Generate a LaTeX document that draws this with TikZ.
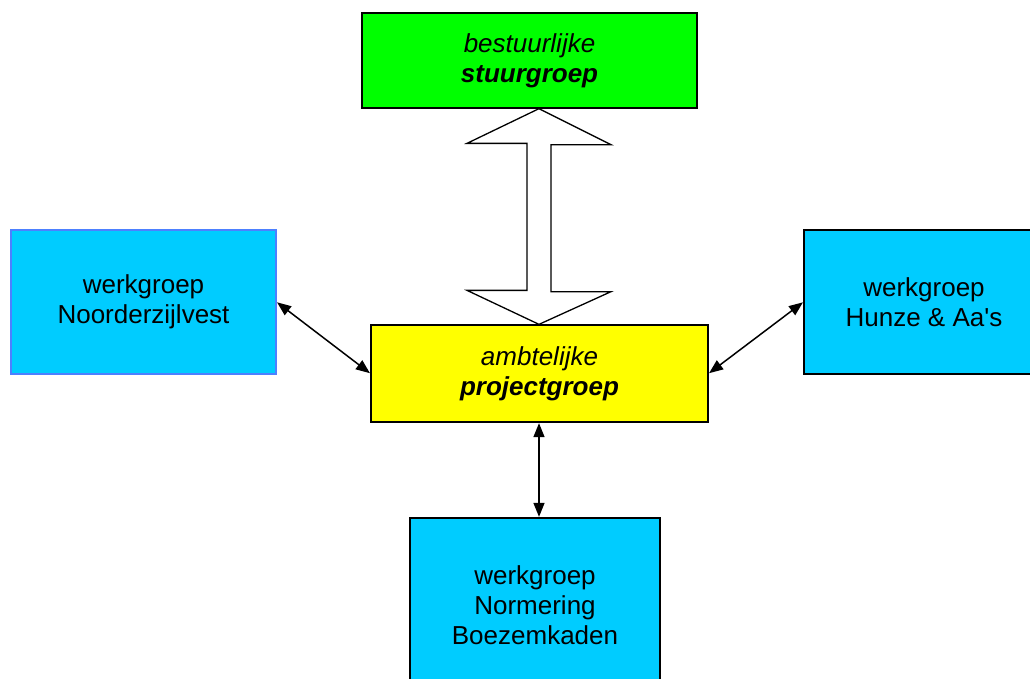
\documentclass[tikz,border=0pt]{standalone}
\usepackage{fontspec}
\setmainfont{Liberation Sans}[Ligatures=TeXOff]
\usetikzlibrary{arrows.meta}
\definecolor{boxgreen}{HTML}{00FF00}
\definecolor{boxyellow}{HTML}{FFFF00}
\definecolor{boxcyan}{HTML}{00CCFF}
\definecolor{lightedge}{HTML}{4D80FF}
\begin{document}
\begin{tikzpicture}[x=1pt,y=-1pt,
  box/.style={draw=black,line width=1.3pt,rectangle,inner sep=0pt,align=center,
    font=\fontsize{26}{30}\selectfont},
  link/.style={line width=1.5pt,{Triangle[length=14pt,width=11pt]}-{Triangle[length=14pt,width=11pt]},shorten <=0.5pt,shorten >=0.5pt}]
\useasboundingbox (0,0) rectangle (1030,678);
\clip (0,0) rectangle (1030,678);
\node[box,fill=boxgreen,minimum width=335pt,minimum height=95pt] (g) at (529.5,60.5)
  {\itshape bestuurlijke\\\bfseries\itshape stuurgroep};
\node[box,fill=boxyellow,minimum width=337pt,minimum height=97pt] (y) at (539.5,373.5)
  {\itshape ambtelijke\\\bfseries\itshape projectgroep};
\node[box,fill=boxcyan,draw=lightedge,minimum width=265pt,minimum height=144pt] (l) at (143.5,302)
  {werkgroep\\Noorderzijlvest};
\node[box,fill=boxcyan,minimum width=240pt,minimum height=144pt] (r) at (924,302)
  {werkgroep\\Hunze \& Aa's};
\node[box,fill=boxcyan,minimum width=250pt,minimum height=174pt] (b) at (535,605)
  {werkgroep\\Normering\\Boezemkaden};
% big double arrow between stuurgroep and projectgroep
\coordinate (bt) at ([xshift=-0.5pt]y.north |- g.south);
\coordinate (bb) at ([xshift=-0.5pt]y.north);
\draw[line width=1.3pt,fill=white,line join=miter]
  (bt) -- ++(72,36) -- ++(-60,0) -- ++(0,147) -- ++(60,0) -- (bb)
  -- ++(-72,-34) -- ++(60,0) -- ++(0,-147) -- ++(-60,0) -- cycle;
\draw[link] (l.east) -- (y.west);
\draw[link] (y.east) -- (r.west);
\draw[link] ([xshift=-0.5pt]y.south) -- ([xshift=-0.5pt]y.south |- b.north);
\end{tikzpicture}
\end{document}
